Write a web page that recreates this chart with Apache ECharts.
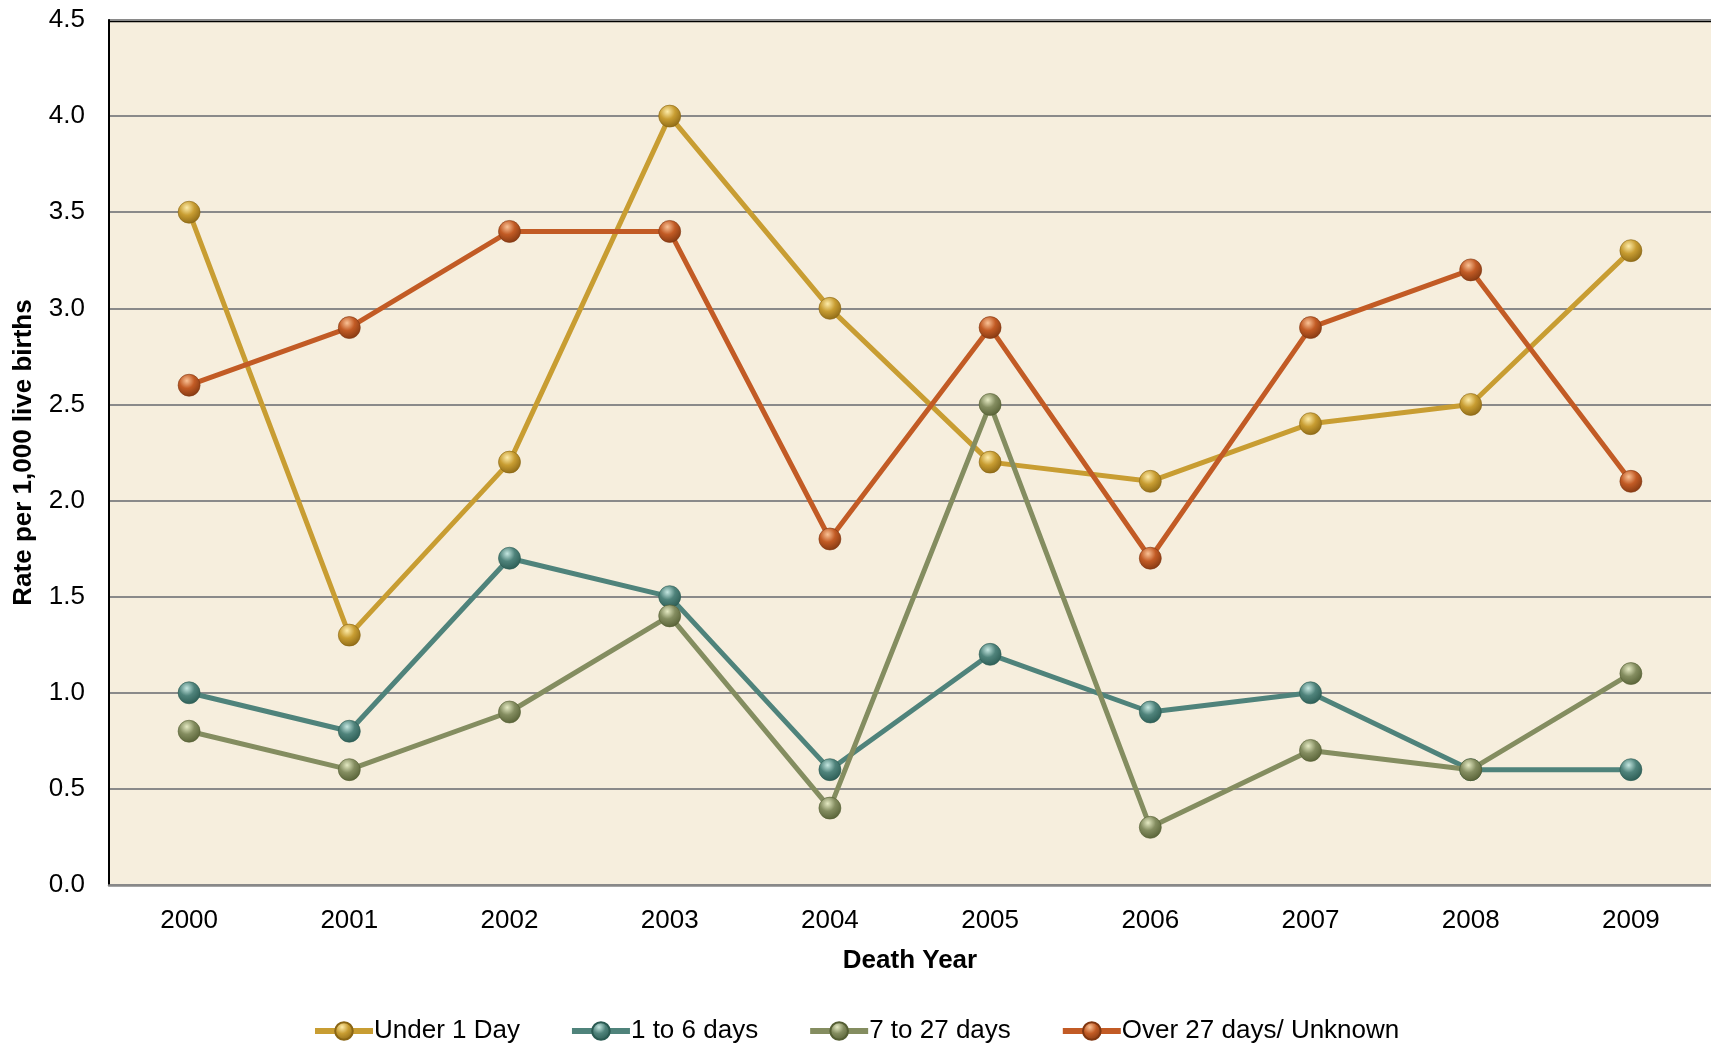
<!DOCTYPE html>
<html>
<head>
<meta charset="utf-8">
<script src="https://cdn.jsdelivr.net/npm/echarts@6/dist/echarts.min.js"></script>
<style>
  html, body { margin: 0; padding: 0; background: #fff; }
  #chart { width: 1711px; height: 1047px; }
</style>
</head>
<body>
<div id="chart"></div>
<script>
// data
var years = ["2000", "2001", "2002", "2003", "2004", "2005", "2006", "2007", "2008", "2009"];
var under1Day = [3.5, 1.3, 2.2, 4.0, 3.0, 2.2, 2.1, 2.4, 2.5, 3.3];
var days1to6 = [1.0, 0.8, 1.7, 1.5, 0.6, 1.2, 0.9, 1.0, 0.6, 0.6];
var days7to27 = [0.8, 0.6, 0.9, 1.4, 0.4, 2.5, 0.3, 0.7, 0.6, 1.1];
var over27 = [2.6, 2.9, 3.4, 3.4, 1.8, 2.9, 1.7, 2.9, 3.2, 2.1];

var font = "'Liberation Sans', Arial, sans-serif";

// shiny ball marker
function ball(light, base, dark) {
  return {
    type: "radial", x: 0.4, y: 0.3, r: 0.75,
    colorStops: [
      { offset: 0, color: light },
      { offset: 0.45, color: base },
      { offset: 1, color: dark }
    ]
  };
}

function makeSeries(name, data, line, light, dark) {
  return {
    name: name,
    type: "line",
    data: data,
    symbol: "circle",
    symbolSize: 22,
    lineStyle: { color: line, width: 5 },
    itemStyle: { color: ball(light, line, dark), borderColor: dark, borderWidth: 0.6 },
    emphasis: { disabled: true },
    z: 2
  };
}

var chart = echarts.init(document.getElementById("chart"));
var option = {
  animation: false,
  textStyle: { fontFamily: font },
  grid: { left: 109, top: 20, width: 1605, height: 865, show: true,
          backgroundColor: "#F6EEDD", borderWidth: 0 },
  legend: {
    bottom: -2, left: 307,
    itemWidth: 58, itemHeight: 22, itemGap: 49,
    lineStyle: { width: 6 },
    textStyle: { fontSize: 26, color: "#000", fontFamily: font, padding: [0, 0, 0, -4] },
    data: ["Under 1 Day", "1 to 6 days", "7 to 27 days", "Over 27 days/ Unknown"]
  },
  xAxis: {
    type: "category",
    data: years,
    name: "Death Year",
    nameLocation: "middle",
    nameGap: 63,
    nameTextStyle: { fontSize: 26, fontWeight: "bold", color: "#000" },
    axisLine: { lineStyle: { color: "#888", width: 2.5 } },
    axisTick: { show: false },
    axisLabel: { fontSize: 26, color: "#000", margin: 23 }
  },
  yAxis: {
    type: "value",
    min: 0, max: 4.5, interval: 0.5,
    name: "Rate per 1,000 live births",
    nameLocation: "middle",
    nameGap: 72,
    nameTextStyle: { fontSize: 26, fontWeight: "bold", color: "#000" },
    axisLine: { show: true, lineStyle: { color: "#000", width: 2 } },
    axisTick: { show: false },
    axisLabel: { fontSize: 26, color: "#000", margin: 24,
                 formatter: function (v) { return v.toFixed(1); } },
    splitLine: { lineStyle: { color: "#8a8a8a", width: 2 } }
  },
  series: [
    makeSeries("Under 1 Day", under1Day, "#C89D32", "#FDEBA8", "#8A6614"),
    makeSeries("1 to 6 days", days1to6, "#4F837B", "#C4E6E0", "#2A5A52"),
    makeSeries("7 to 27 days", days7to27, "#848D60", "#E4E9C2", "#555F34"),
    makeSeries("Over 27 days/ Unknown", over27, "#C25B25", "#F9C195", "#803610")
  ],
  graphic: [{
    // black top border of the plot
    type: "line",
    shape: { x1: 108, y1: 21, x2: 1711, y2: 21 },
    style: { stroke: "#000", lineWidth: 2.5 }
  }]
};
chart.setOption(option);
</script>
</body>
</html>
